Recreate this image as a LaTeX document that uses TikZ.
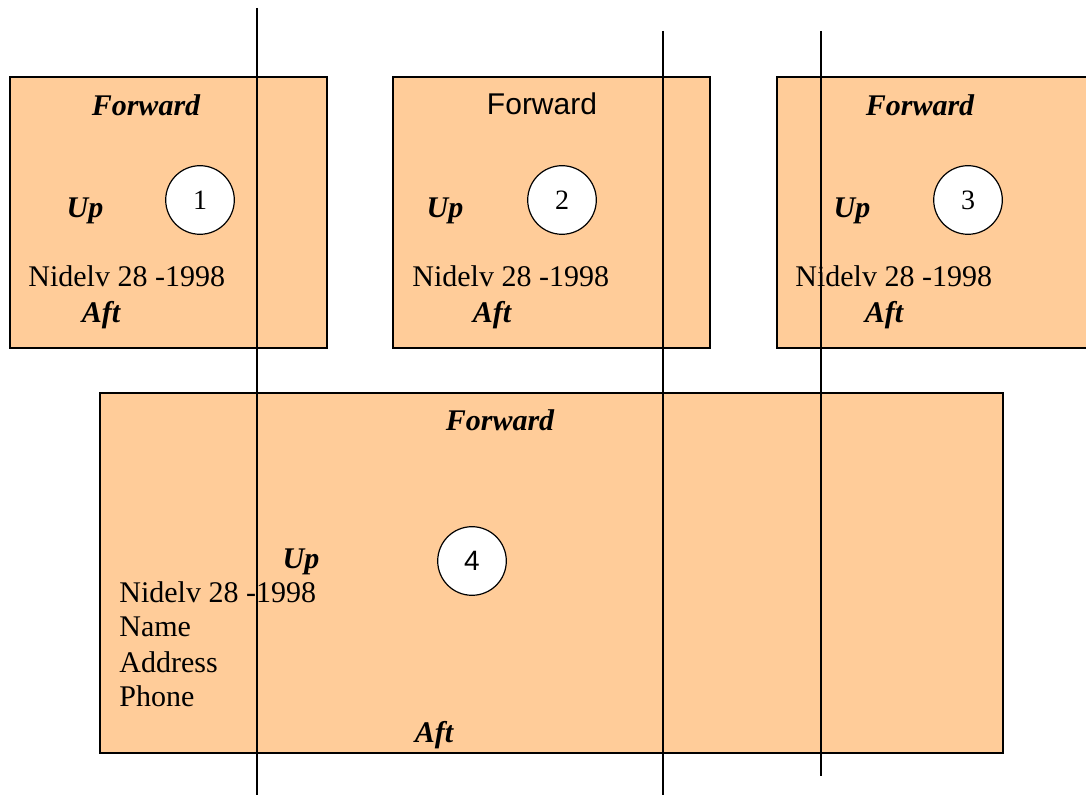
\documentclass[tikz,border=0pt]{standalone}
\usepackage{fontspec}
\setmainfont{Liberation Serif}
\setsansfont{Liberation Sans}
\usepackage{tikz}
\usetikzlibrary{positioning}
\usetikzlibrary{shapes,shapes.geometric}
\definecolor{peach}{RGB}{255,204,153}
\newcommand{\txtsize}{\fontsize{15}{17.2}\selectfont}
\tikzstyle{panel} = [rectangle, draw, fill=peach, anchor=north west, line width=0.8pt, minimum width=158.5pt, minimum height=135.5pt, inner sep=0pt]
\tikzstyle{bigpanel} = [panel, minimum width=451.5pt, minimum height=180.2pt]
\tikzstyle{disc} = [circle, draw, fill=white, line width=0.6pt, minimum size=34.3pt, inner sep=0pt, font=\fontsize{14}{16}\selectfont]
\tikzstyle{side} = [inner sep=0pt, anchor=base, font=\txtsize\bfseries\itshape]
\tikzstyle{plain} = [inner sep=0pt, anchor=base west, font=\txtsize]
\tikzstyle{cut} = [draw, line width=0.8pt]

\begin{document}
\begin{tikzpicture}[x=0.5pt, y=-0.5pt]
	\useasboundingbox (0,0) rectangle (1086,795);

	% panels
	\node [panel]    (P1) at (9,76)   {};
	\node [panel]    (P2) at (392,76) {};
	\node [panel]    (P3) at (776,76) {};
	\node [bigpanel] (P4) at (99,392) {};

	% panel 1
	\node [side]  (F1) at (146,116) {Forward};
	\node [side]  (U1) at (85,218)  {Up};
	\node [disc]  (C1) at (200,200) {1};
	\node [plain] (N1) at (28,287)  {Nidelv 28 -1998};
	\node [side]  (A1) at (101,323) {Aft};

	% panel 2
	\node [side, font=\txtsize\sffamily] (F2) at (542,115) {Forward};
	\node [side]  (U2) at (445,218) {Up};
	\node [disc]  (C2) at (562,200) {2};
	\node [plain] (N2) at (412,287) {Nidelv 28 -1998};
	\node [side]  (A2) at (492,323) {Aft};

	% panel 3
	\node [side]  (F3) at (920,116) {Forward};
	\node [side]  (U3) at (852,218) {Up};
	\node [disc]  (C3) at (968,200) {3};
	\node [plain] (N3) at (795,287) {Nidelv 28 -1998};
	\node [side]  (A3) at (884,323) {Aft};

	% panel 4
	\node [side]  (F4) at (500,431) {Forward};
	\node [side]  (U4) at (301,569) {Up};
	\node [disc, font=\sffamily\fontsize{14}{16}\selectfont] (C4) at (472,561) {4};
	\node [plain] (N4) at (119,603) {Nidelv 28 -1998};
	\node [plain] (L1) at (119,637) {Name};
	\node [plain] (L2) at (119,672) {Address};
	\node [plain] (L3) at (119,706) {Phone};
	\node [side]  (A4) at (434,742) {Aft};

	% cut lines
	\path [cut] (257,8) -- (257,795);
	\path [cut] (663,31) -- (663,795);
	\path [cut] (821,31) -- (821,776);
\end{tikzpicture}
\end{document}
